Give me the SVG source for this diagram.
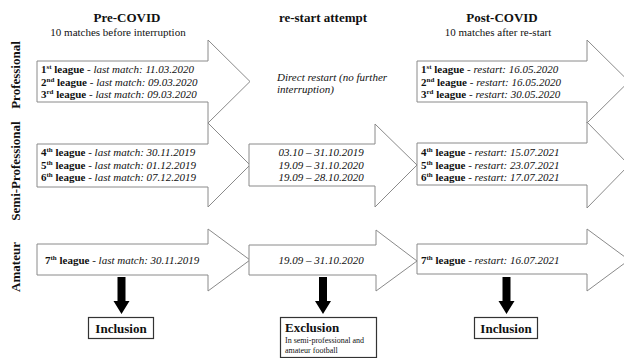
<svg xmlns="http://www.w3.org/2000/svg" width="624" height="358" viewBox="0 0 624 358">
<style>
text{font-family:"Liberation Serif","Times New Roman",serif;fill:#111}
.h{font-size:13px;font-weight:bold;text-anchor:middle}
.sub{font-size:11px;text-anchor:middle}
.v{font-size:13px;font-weight:bold;text-anchor:middle}
.t{font-size:11px}
.b{font-weight:bold}
.i{font-style:italic}
.sup{font-size:7px}
.c{text-anchor:middle}
.arr{fill:#fff;stroke:#8a8a8a;stroke-width:1}
.box{fill:#fff;stroke:#333;stroke-width:1.2}
.blk{fill:#000}
</style>
<defs>
<path id="down" d="M-4,0 H4 V24 H8 L0,37 L-8,24 H-4 Z"/>
</defs>
<rect width="624" height="358" fill="#fff"/>
<g id="headers">
<text class="h" x="127" y="22">Pre-COVID</text>
<text class="sub" x="118" y="36">10 matches before interruption</text>
<text class="h" x="323" y="22">re-start attempt</text>
<text class="h" x="502" y="22">Post-COVID</text>
<text class="sub" x="498" y="36">10 matches after re-start</text>
</g>
<g id="rowlabels">
<text class="v" transform="translate(20,75) rotate(-90)">Professional</text>
<text class="v" transform="translate(20,171) rotate(-90)">Semi-Professional</text>
<text class="v" transform="translate(20,267) rotate(-90)">Amateur</text>
</g>
<g id="connectors">
<path class="arr" d="M37,61 H208 V40 L250,81.5 L208,123 V102 H37 Z"/>
<path class="arr" d="M417,61 H587 V40 L629,81.5 L587,123 V102 H417 Z"/>
<path class="arr" d="M37,144 H208 V123 L250,165 L208,207 V187 H37 Z"/>
<path class="arr" d="M249,144 H375 V124 L417,165 L375,207 V186 H249 Z"/>
<path class="arr" d="M417,143 H587 V122 L629,165 L587,208 V185 H417 Z"/>
<path class="arr" d="M37,244 H208 V229 L250,260 L208,291 V275 H37 Z"/>
<path class="arr" d="M249,245 H376 V230 L417,261 L376,291 V275 H249 Z"/>
<path class="arr" d="M417,244 H587 V229 L629,260 L587,291 V274 H417 Z"/>
<use href="#down" class="blk" x="121.5" y="277"/>
<use href="#down" class="blk" x="323" y="277"/>
<use href="#down" class="blk" x="506.5" y="277"/>
</g>
<g id="pre-pro">
<text class="t" x="41" y="73"><tspan class="b">1</tspan><tspan class="b sup" dy="-4">st</tspan><tspan class="b" dy="4"> league </tspan> - <tspan class="i">last match: 11.03.2020</tspan></text>
<text class="t" x="41" y="85.5"><tspan class="b">2</tspan><tspan class="b sup" dy="-4">nd</tspan><tspan class="b" dy="4"> league</tspan> - <tspan class="i">last match: 09.03.2020</tspan></text>
<text class="t" x="41" y="98"><tspan class="b">3</tspan><tspan class="b sup" dy="-4">rd</tspan><tspan class="b" dy="4"> league</tspan> - <tspan class="i">last match: 09.03.2020</tspan></text>
</g>
<g id="restart-pro">
<text class="t i" x="277" y="81">Direct restart (no further</text>
<text class="t i" x="277" y="93">interruption)</text>
</g>
<g id="post-pro">
<text class="t" x="421" y="73"><tspan class="b">1</tspan><tspan class="b sup" dy="-4">st</tspan><tspan class="b" dy="4"> league </tspan> - <tspan class="i">restart: 16.05.2020</tspan></text>
<text class="t" x="421" y="85.5"><tspan class="b">2</tspan><tspan class="b sup" dy="-4">nd</tspan><tspan class="b" dy="4"> league</tspan> - <tspan class="i">restart: 16.05.2020</tspan></text>
<text class="t" x="421" y="98"><tspan class="b">3</tspan><tspan class="b sup" dy="-4">rd</tspan><tspan class="b" dy="4"> league</tspan> - <tspan class="i">restart: 30.05.2020</tspan></text>
</g>
<g id="pre-semi">
<text class="t" x="41" y="156"><tspan class="b">4</tspan><tspan class="b sup" dy="-4">th</tspan><tspan class="b" dy="4"> league </tspan> - <tspan class="i">last match: 30.11.2019</tspan></text>
<text class="t" x="41" y="168.5"><tspan class="b">5</tspan><tspan class="b sup" dy="-4">th</tspan><tspan class="b" dy="4"> league </tspan> - <tspan class="i">last match: 01.12.2019</tspan></text>
<text class="t" x="41" y="181"><tspan class="b">6</tspan><tspan class="b sup" dy="-4">th</tspan><tspan class="b" dy="4"> league </tspan> - <tspan class="i">last match: 07.12.2019</tspan></text>
</g>
<g id="restart-semi">
<text class="t i c" x="321" y="156">03.10 – 31.10.2019</text>
<text class="t i c" x="321" y="168.5">19.09 – 31.10.2020</text>
<text class="t i c" x="321" y="181">19.09 – 28.10.2020</text>
</g>
<g id="post-semi">
<text class="t" x="421" y="156"><tspan class="b">4</tspan><tspan class="b sup" dy="-4">th</tspan><tspan class="b" dy="4"> league </tspan> - <tspan class="i">restart: 15.07.2021</tspan></text>
<text class="t" x="421" y="168.5"><tspan class="b">5</tspan><tspan class="b sup" dy="-4">th</tspan><tspan class="b" dy="4"> league </tspan> - <tspan class="i">restart: 23.07.2021</tspan></text>
<text class="t" x="421" y="181"><tspan class="b">6</tspan><tspan class="b sup" dy="-4">th</tspan><tspan class="b" dy="4"> league </tspan> - <tspan class="i">restart: 17.07.2021</tspan></text>
</g>
<g id="pre-amateur">
<text class="t" x="45" y="264"><tspan class="b">7</tspan><tspan class="b sup" dy="-4">th</tspan><tspan class="b" dy="4"> league </tspan> - <tspan class="i">last match: 30.11.2019</tspan></text>
</g>
<g id="restart-amateur">
<text class="t i c" x="321" y="264">19.09 – 31.10.2020</text>
</g>
<g id="post-amateur">
<text class="t" x="421" y="264"><tspan class="b">7</tspan><tspan class="b sup" dy="-4">th</tspan><tspan class="b" dy="4"> league </tspan> - <tspan class="i">restart: 16.07.2021</tspan></text>
</g>
<g id="inclusion-left">
<rect class="box" x="88.5" y="317.5" width="65" height="21"/>
<text class="h" x="121" y="333">Inclusion</text>
</g>
<g id="exclusion">
<rect class="box" x="280.5" y="317.5" width="96" height="40"/>
<text x="285" y="331.5" style="font-size:13px;font-weight:bold">Exclusion</text>
<text x="285" y="343" style="font-size:8px">In semi-professional and</text>
<text x="285" y="353" style="font-size:8px">amateur football</text>
</g>
<g id="inclusion-right">
<rect class="box" x="474.5" y="317.5" width="63" height="21"/>
<text class="h" x="506" y="333">Inclusion</text>
</g>
</svg>
